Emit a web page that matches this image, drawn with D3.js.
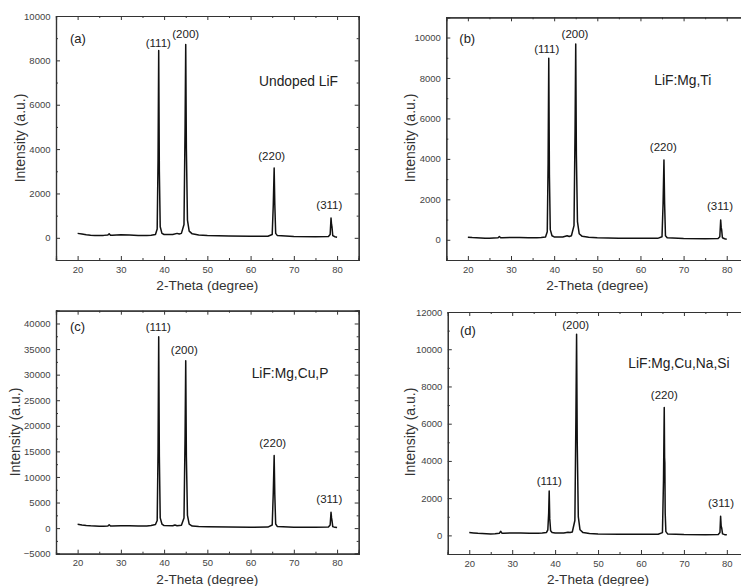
<!DOCTYPE html>
<html>
<head>
<meta charset="utf-8">
<script src="https://cdn.jsdelivr.net/npm/d3@7"></script>
<style>
html,body{margin:0;padding:0;background:#fff;}
svg{display:block;font-family:"Liberation Sans",Arial,Helvetica,sans-serif;}
</style>
</head>
<body>
<svg id="chart" width="741" height="586"></svg>
<script>
// ---- Data ----
const xTicks = [20, 30, 40, 50, 60, 70, 80];
const xMinor = [15, 25, 35, 45, 55, 65, 75, 85];

// (a) Undoped LiF
const thetaA = [20,21,22,23,24,25,26,27,27.3,27.6,28,30,32,34,36,37,38,38.4,38.6,38.75,38.9,39.1,39.5,40,42,43,43.5,44,44.6,44.85,45.0,45.15,45.4,45.8,46.5,48,50,55,60,64,65.0,65.25,65.45,65.6,65.8,66.2,70,75,78,78.4,78.6,78.72,78.82,79.0,79.5,80];
const intA   = [200,170,140,120,110,100,110,130,180,120,120,140,130,110,100,120,150,400,3500,8450,3000,500,200,150,150,200,170,200,600,5000,8720,4000,800,300,180,130,100,80,70,70,150,1500,3150,1500,200,100,60,50,60,150,890,600,500,100,50,30];

// (b) LiF:Mg,Ti
const thetaB = [20,21,22,23,24,25,26,27,27.3,27.6,28,30,32,34,36,37,38,38.4,38.6,38.75,38.9,39.1,39.5,40,42,43,43.5,44,44.6,44.85,45.0,45.15,45.4,45.8,46.5,48,50,55,60,64,65.0,65.25,65.45,65.6,65.8,66.2,70,75,78,78.4,78.6,78.72,78.82,79.0,79.5,80];
const intB   = [130,110,100,90,80,80,90,100,160,100,100,110,110,100,100,110,140,400,3800,8970,3200,500,200,140,140,200,160,200,700,5500,9680,4200,900,300,170,120,100,80,70,70,150,1800,3950,1800,200,100,60,50,60,150,980,600,500,100,50,30];

// (c) LiF:Mg,Cu,P
const thetaC = [20,21,22,23,24,25,26,27,27.3,27.6,28,30,32,34,36,37,38,38.4,38.6,38.75,38.9,39.1,39.5,40,42,42.5,43,44,44.6,44.85,45.0,45.15,45.4,45.8,46.5,48,50,55,60,64,65.0,65.25,65.45,65.6,65.8,66.2,70,75,78,78.4,78.6,78.72,78.82,79.0,79.5,80];
const intC   = [750,620,520,450,400,350,380,400,650,420,420,450,440,420,400,500,700,1500,15000,37400,14000,2000,800,500,450,600,450,550,2000,18000,32700,14000,2500,800,400,300,250,200,180,200,600,7000,14200,6500,800,300,150,150,200,600,3100,2000,1500,300,150,100];

// (d) LiF:Mg,Cu,Na,Si
const thetaD = [20,21,22,23,24,25,26,27,27.3,27.6,28,30,32,34,36,37,38,38.3,38.5,38.62,38.75,38.95,39.3,40,42,43,43.5,44,44.6,44.85,45.0,45.15,45.4,45.8,46.5,48,50,55,60,64,65.0,65.25,65.42,65.5,65.56,65.64,65.8,66.2,70,75,78,78.4,78.55,78.68,78.8,79.0,79.5,80];
const intD   = [150,130,110,100,90,80,90,110,220,120,120,130,130,120,120,130,160,300,1200,2390,900,250,150,130,130,170,150,180,800,6500,10800,5000,1000,300,150,100,80,60,60,60,150,3000,6870,4200,3900,1200,200,80,50,40,50,150,1030,500,400,80,40,30];

const peakLabels = ["(111)", "(200)", "(220)", "(311)"];

const panels = [
  {id:"(a)", name:"Undoped LiF", theta:thetaA, inten:intA,
   box:[56,358.7,16,260], yDom:[-1000,10000], yTicks:[0,2000,4000,6000,8000,10000], yMinorStep:1000,
   idLab:[70,42.5], nameLab:[259,86],
   peaks:[[158.3,46.5],[185.7,37.5],[271.7,160],[329.3,208.5]], yTitle:[20,138]},
  {id:"(b)", name:"LiF:Mg,Ti", theta:thetaB, inten:intB,
   box:[446.3,748.3,17.3,260], yDom:[-1000,11000], yTicks:[0,2000,4000,6000,8000,10000], yMinorStep:1000,
   idLab:[459.3,42.5], nameLab:[654.3,85],
   peaks:[[546.7,52.5],[575,37.5],[663.3,151],[720,210]], yTitle:[410,138]},
  {id:"(c)", name:"LiF:Mg,Cu,P", theta:thetaC, inten:intC,
   box:[56,358.7,310.7,553.7], yDom:[-5000,42500], yTicks:[-5000,0,5000,10000,15000,20000,25000,30000,35000,40000], yMinorStep:2500,
   idLab:[70,331], nameLab:[251.7,378],
   peaks:[[158.3,330.5],[184.3,354],[272.7,447],[329.3,503]], yTitle:[15,432]},
  {id:"(d)", name:"LiF:Mg,Cu,Na,Si", theta:thetaD, inten:intD,
   box:[447.8,748.3,312,554], yDom:[-1000,12000], yTicks:[0,2000,4000,6000,8000,10000,12000], yMinorStep:1000,
   idLab:[460,334.5], nameLab:[628.3,368],
   peaks:[[549.3,484.5],[575.7,329],[664.3,399],[721,507]], yTitle:[410,432]}
];

const svg = d3.select("#chart");
const tickColor = "#444";

panels.forEach(p => {
  const [x0,x1,y0,y1] = p.box;
  const x = d3.scaleLinear().domain([15,85]).range([x0,x1]);
  const y = d3.scaleLinear().domain(p.yDom).range([y1,y0]);
  const g = svg.append("g");

  const minorY = d3.range(p.yDom[0], p.yDom[1] + 1, p.yMinorStep).filter(v => !p.yTicks.includes(v));

  function styleAxis(sel){
    sel.select(".domain").attr("stroke","#333").attr("stroke-width",1.2);
    sel.selectAll(".tick line").attr("stroke","#333").attr("stroke-width",1);
    sel.selectAll(".tick text").attr("fill",tickColor).style("font-size","9.5px")
       .style("font-family","'Liberation Sans',Arial,sans-serif");
  }

  // bottom axis
  g.append("g").attr("transform",`translate(0,${y1})`)
    .call(d3.axisBottom(x).tickValues(xTicks).tickSize(-4).tickPadding(6).tickFormat(d3.format("d")))
    .call(styleAxis);
  g.append("g").attr("transform",`translate(0,${y1})`)
    .call(d3.axisBottom(x).tickValues(xMinor).tickSize(-2).tickFormat(""))
    .call(styleAxis);
  // top axis
  g.append("g").attr("transform",`translate(0,${y0})`)
    .call(d3.axisTop(x).tickValues(xTicks).tickSize(-4).tickFormat(""))
    .call(styleAxis);
  g.append("g").attr("transform",`translate(0,${y0})`)
    .call(d3.axisTop(x).tickValues(xMinor).tickSize(-2).tickFormat(""))
    .call(styleAxis);
  // left axis
  g.append("g").attr("transform",`translate(${x0},0)`)
    .call(d3.axisLeft(y).tickValues(p.yTicks).tickSize(-4).tickPadding(5.5).tickFormat(d3.format("d")))
    .call(styleAxis);
  g.append("g").attr("transform",`translate(${x0},0)`)
    .call(d3.axisLeft(y).tickValues(minorY).tickSize(-2).tickFormat(""))
    .call(styleAxis);
  // right axis
  g.append("g").attr("transform",`translate(${x1},0)`)
    .call(d3.axisRight(y).tickValues(p.yTicks).tickSize(-4).tickFormat(""))
    .call(styleAxis);
  g.append("g").attr("transform",`translate(${x1},0)`)
    .call(d3.axisRight(y).tickValues(minorY).tickSize(-2).tickFormat(""))
    .call(styleAxis);

  // pattern line
  const pts = p.theta.map((t,i)=>[t,p.inten[i]]);
  g.append("path").datum(pts)
    .attr("fill","none").attr("stroke","#111").attr("stroke-width",1.5)
    .attr("stroke-linejoin","round")
    .attr("d", d3.line().x(d=>x(d[0])).y(d=>y(d[1])));

  // axis titles
  g.append("text").attr("x",(x0+x1)/2).attr("y",y1+30)
    .attr("text-anchor","middle").attr("fill","#333").style("font-size","13.6px")
    .text("2-Theta (degree)");
  g.append("text").attr("transform",`translate(${p.yTitle[0]+4.5},${p.yTitle[1]}) rotate(-90)`)
    .attr("text-anchor","middle").attr("fill","#333").style("font-size","14px")
    .text("Intensity (a.u.)");

  // panel id & sample name
  g.append("text").attr("x",p.idLab[0]).attr("y",p.idLab[1])
    .attr("fill","#222").style("font-size","13px").text(p.id);
  g.append("text").attr("x",p.nameLab[0]).attr("y",p.nameLab[1])
    .attr("fill","#222").style("font-size","13.8px").text(p.name);

  // peak labels
  p.peaks.forEach((pk,i)=>{
    g.append("text").attr("x",pk[0]).attr("y",pk[1])
      .attr("text-anchor","middle").attr("fill","#222").style("font-size","11.5px")
      .text(peakLabels[i]);
  });
});
</script>
</body>
</html>
